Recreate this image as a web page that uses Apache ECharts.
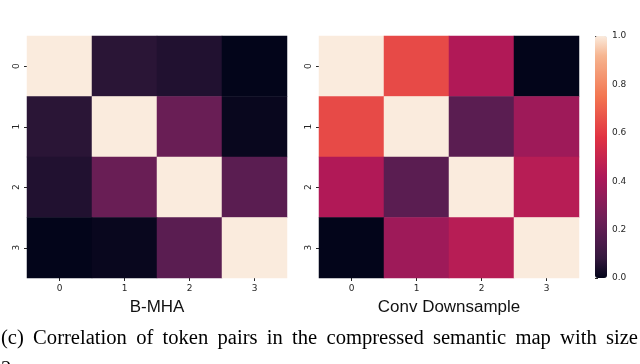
<!DOCTYPE html>
<html style="height: 100%">

<head>
  <meta charset="utf-8">
  <script src="https://cdn.jsdelivr.net/npm/echarts@6/dist/echarts.min.js"></script>
</head>

<body style="height: 100%; margin: 0; background: #fff">
  <div id="main" style="width: 640px; height: 364px"></div>

  <script type="text/javascript">
    // token indices
    var tokens = ['0', '1', '2', '3'];
    // correlation matrices, row by row
    var bmha = [
      [1.00, 0.065, 0.05, 0.00],
      [0.065, 1.00, 0.23, 0.01],
      [0.05, 0.23, 1.00, 0.19],
      [0.00, 0.01, 0.19, 1.00]
    ];
    var convDown = [
      [1.00, 0.64, 0.43, 0.00],
      [0.64, 1.00, 0.19, 0.375],
      [0.43, 0.19, 1.00, 0.45],
      [0.00, 0.375, 0.45, 1.00]
    ];
    var panelTitles = ['B-MHA', 'Conv Downsample'];
    var barTicks = [0, 0.2, 0.4, 0.6, 0.8, 1.0];
    var caption = '(c) Correlation of token pairs in the compressed semantic map with size';
    var captionTail = '2';

    // seaborn "rocket", sampled every 1/12
    var rocket = ['#03051a', '#35193e', '#521c4e', '#701f57', '#8f1c59', '#ad1759',
      '#c7254e', '#e13342', '#ea554a', '#f37651', '#f49570', '#f6b48f', '#faebdd'];

    function toCells(m) {
      var out = [];
      m.forEach(function(row, r) {
        row.forEach(function(v, c) { out.push([c, r, v]); });
      });
      return out;
    }

    var tickFont = { fontFamily: 'DejaVu Sans', fontSize: 9, color: '#262626' };

    function catX(i) {
      return {
        type: 'category', gridIndex: i, data: tokens, position: 'bottom',
        axisLine: { show: false },
        axisTick: { show: true, length: 3, alignWithLabel: true, lineStyle: { color: '#262626' } },
        axisLabel: Object.assign({ margin: 6 }, tickFont),
        splitLine: { show: false }
      };
    }
    function catY(i) {
      return {
        type: 'category', gridIndex: i, data: tokens, inverse: true,
        axisLine: { show: false },
        axisTick: { show: true, length: 3, alignWithLabel: true, lineStyle: { color: '#262626' } },
        axisLabel: Object.assign({ margin: 6, rotate: 90 }, tickFont),
        splitLine: { show: false }
      };
    }

    // justify caption words across the line, like the LaTeX caption
    var capFont = '20px "Liberation Serif"';
    var stretch = 1.03;
    var ctx = document.createElement('canvas').getContext('2d');
    ctx.font = capFont;
    var words = caption.split(' ');
    var widths = words.map(function(w) { return ctx.measureText(w).width * stretch; });
    var total = widths.reduce(function(a, b) { return a + b; }, 0);
    var capLeft = 1, capRight = 638;
    var gap = (capRight - capLeft - total) / (words.length - 1);
    var graphics = [];
    var xCur = capLeft;
    words.forEach(function(w, i) {
      graphics.push({
        type: 'text', x: xCur, y: 329, scaleX: stretch,
        style: { text: w, font: capFont, fill: '#000', verticalAlign: 'top' }
      });
      xCur += widths[i] + gap;
    });
    graphics.push({
      type: 'text', x: capLeft, y: 360, scaleX: stretch,
      style: { text: captionTail, font: capFont, fill: '#000', verticalAlign: 'top' }
    });
    // panel titles under the heatmaps
    [157, 449].forEach(function(cx, i) {
      graphics.push({
        type: 'text', x: cx, y: 308, scaleX: 1.06,
        style: { text: panelTitles[i], font: '16px "Liberation Sans"', fill: '#111',
          align: 'center', verticalAlign: 'middle' }
      });
    });

    var myChart = echarts.init(document.getElementById('main'));
    var option = {
      animation: false,
      backgroundColor: '#fff',
      grid: [
        { left: 27, top: 36, width: 260, height: 242 },
        { left: 319, top: 36, width: 260, height: 242 },
        { left: 595, top: 36, width: 12, height: 242 }
      ],
      xAxis: [catX(0), catX(1),
        { type: 'value', gridIndex: 2, show: false, min: 0, max: 1 }],
      yAxis: [catY(0), catY(1),
        {
          type: 'value', gridIndex: 2, position: 'right', min: 0, max: 1, interval: 0.2,
          axisLine: { show: false },
          axisTick: { show: true, length: 3, lineStyle: { color: '#262626' } },
          splitLine: { show: false },
          axisLabel: Object.assign({ margin: 5, formatter: function(v) { return v.toFixed(1); },
            customValues: barTicks }, tickFont)
        }],
      visualMap: {
        type: 'continuous', min: 0, max: 1, calculable: false,
        seriesIndex: [0, 1], orient: 'vertical',
        left: 595, top: 36, itemWidth: 12, itemHeight: 242, padding: 0,
        text: ['', ''], showLabel: false,
        inRange: { color: rocket }
      },
      series: [
        { type: 'heatmap', xAxisIndex: 0, yAxisIndex: 0, data: toCells(bmha), itemStyle: { borderWidth: 0 } },
        { type: 'heatmap', xAxisIndex: 1, yAxisIndex: 1, data: toCells(convDown), itemStyle: { borderWidth: 0 } }
      ],
      graphic: graphics
    };
    myChart.setOption(option);
  </script>
</body>

</html>
